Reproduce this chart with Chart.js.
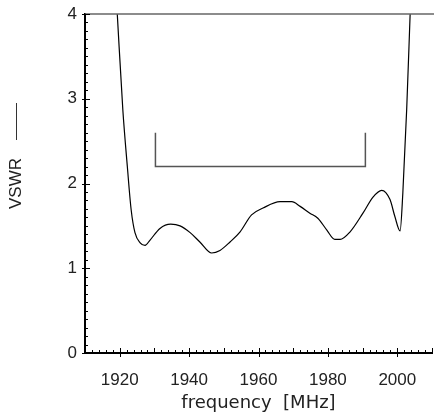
<!DOCTYPE html>
<html>
<head>
<meta charset="utf-8">
<script src="https://cdn.jsdelivr.net/npm/chart.js@4.4.0/dist/chart.umd.min.js"></script>
<style>
  html, body { margin: 0; padding: 0; background: #fff; }
  #wrap { width: 434px; height: 414px; }
</style>
</head>
<body>
<div id="wrap"><canvas id="chartVswr" width="434" height="414"></canvas></div>
<script>
// measured VSWR curve
var freq = [1919.3, 1920.9, 1922.2, 1923.3, 1924.4, 1925.9, 1927.3, 1928.7, 1931.6, 1934.7, 1937.4,
	1940.3, 1943.1, 1946.5, 1948.9, 1951.8, 1954.7, 1958.0, 1961.3, 1966.2, 1969.6, 1972.0,
	1974.8, 1977.1, 1979.7, 1982.0, 1983.5, 1986.4, 1990.1, 1993.0, 1995.5, 1997.9, 1999.3,
	2000.8, 2001.6, 2002.7, 2003.7];
var vswr = [4.0, 2.87, 2.2, 1.69, 1.42, 1.30, 1.27, 1.33, 1.47, 1.52, 1.50,
	1.42, 1.31, 1.18, 1.21, 1.31, 1.43, 1.63, 1.71, 1.785, 1.785, 1.73,
	1.65, 1.59, 1.45, 1.34, 1.34, 1.43, 1.65, 1.84, 1.92, 1.81, 1.61,
	1.44, 1.89, 2.87, 4.0];

// specification bracket (band edges, VSWR 2.2 limit)
var specFreq = [1930.3, 1930.3, 1990.8, 1990.8];
var specVswr = [2.6, 2.2, 2.2, 2.6];

var xLabels = [1920, 1940, 1960, 1980, 2000];
var yLabels = [0, 1, 2, 3, 4];
var xMinor = [];
for (var f = 1910; f <= 2010; f += 2) xMinor.push(f);
var yMinor = [];
for (var i = 0; i <= 40; i++) yMinor.push(i / 10);

var tickFont = { family: 'Liberation Sans', size: 17 };
var textColor = '#222';

function toPoints(xs, ys) {
	return xs.map(function (x, k) { return { x: x, y: ys[k] }; });
}

var frame = {
	id: 'frame',
	afterDraw: function (chart) {
		var ctx = chart.ctx;
		var area = chart.chartArea;
		var xs = chart.scales.x;
		var ys = chart.scales.y;
		ctx.save();
		// top line at VSWR 4
		ctx.strokeStyle = '#666';
		ctx.lineWidth = 1.5;
		ctx.beginPath();
		ctx.moveTo(area.left, area.top);
		ctx.lineTo(chart.width, area.top);
		ctx.stroke();

		ctx.strokeStyle = '#000';
		ctx.lineWidth = 1;
		xMinor.forEach(function (v) {
			var px = Math.round(xs.getPixelForValue(v)) + 0.5;
			var up = v % 10 === 0 ? 5 : 3;
			var down = v % 20 === 0 && v > 1910 ? 4 : 0;
			ctx.beginPath();
			ctx.moveTo(px, area.bottom - up);
			ctx.lineTo(px, area.bottom + down);
			ctx.stroke();
		});
		yMinor.forEach(function (v) {
			var py = Math.round(ys.getPixelForValue(v)) + 0.5;
			var major = Math.abs(v - Math.round(v)) < 1e-6;
			ctx.beginPath();
			ctx.moveTo(area.left - (major ? 3 : 0), py);
			ctx.lineTo(area.left + (major ? 5 : 3), py);
			ctx.stroke();
		});

		// line-style key next to the y title
		ctx.strokeStyle = '#333';
		ctx.lineWidth = 1;
		ctx.beginPath();
		ctx.moveTo(16.5, 103);
		ctx.lineTo(16.5, 140);
		ctx.stroke();
		ctx.restore();
	}
};

new Chart(document.getElementById('chartVswr'), {
	type: 'line',
	data: {
		datasets: [
			{
				data: toPoints(freq, vswr),
				borderColor: '#000',
				borderWidth: 1.2,
				pointRadius: 0,
				cubicInterpolationMode: 'monotone',
				fill: false
			},
			{
				data: toPoints(specFreq, specVswr),
				borderColor: '#555',
				borderWidth: 1.5,
				pointRadius: 0,
				tension: 0,
				fill: false
			}
		]
	},
	options: {
		responsive: false,
		animation: false,
		layout: { padding: { top: 14, right: 2, left: 0, bottom: 0 } },
		plugins: { legend: { display: false }, tooltip: { enabled: false } },
		scales: {
			x: {
				type: 'linear',
				min: 1910,
				max: 2010,
				afterBuildTicks: function (scale) {
					scale.ticks = xMinor.map(function (v) { return { value: v }; });
				},
				afterFit: function (scale) {
					scale.height = 61;
					scale.paddingLeft = 0;
					scale.paddingRight = 0;
				},
				grid: { display: false, drawTicks: false },
				border: { display: true, color: '#000', width: 2 },
				ticks: {
					autoSkip: false,
					maxRotation: 0,
					padding: 17,
					font: tickFont,
					color: textColor,
					callback: function (v) { return xLabels.indexOf(v) >= 0 ? String(v) : ''; }
				},
				title: {
					display: true,
					text: 'frequency  [MHz]',
					font: { family: 'DejaVu Sans', size: 18 },
					color: textColor,
					padding: { top: 0, bottom: 0 }
				}
			},
			y: {
				min: 0,
				max: 4,
				afterBuildTicks: function (scale) {
					scale.ticks = yMinor.map(function (v) { return { value: v }; });
				},
				afterFit: function (scale) {
					scale.width = 85;
					scale.paddingTop = 0;
					scale.paddingBottom = 0;
				},
				grid: { display: false, drawTicks: false },
				border: { display: true, color: '#000', width: 2 },
				ticks: {
					autoSkip: false,
					padding: 8,
					font: tickFont,
					color: textColor,
					callback: function (v) {
						var r = Math.round(v);
						return Math.abs(v - r) < 1e-6 && yLabels.indexOf(r) >= 0 ? String(r) : '';
					}
				},
				title: {
					display: true,
					text: 'VSWR',
					font: { family: 'Liberation Sans', size: 17 },
					color: textColor,
					padding: { top: 6, bottom: 0 }
				}
			}
		}
	},
	plugins: [frame]
});
</script>
</body>
</html>
